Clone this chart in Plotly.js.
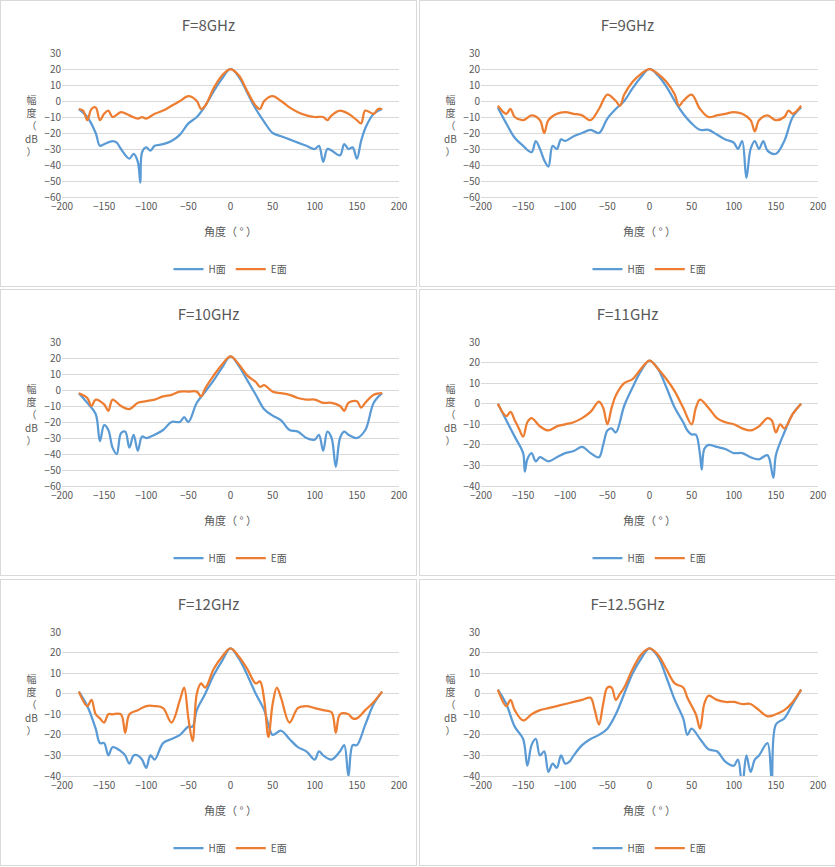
<!DOCTYPE html>
<html>
<head>
<meta charset="utf-8">
<script src="https://cdn.plot.ly/plotly-3.0.1.min.js"></script>
<style>
  body { margin: 0; background: #fff; font-family: "Noto Sans CJK SC", sans-serif; }
  .panel { position: absolute; width: 415px; height: 285px; border: 1px solid #d9d9d9; background: #fff; }
</style>
</head>
<body>
<div id="p1" class="panel" style="left:0;top:0"></div>
<div id="p2" class="panel" style="left:419px;top:0"></div>
<div id="p3" class="panel" style="left:0;top:289px"></div>
<div id="p4" class="panel" style="left:419px;top:289px"></div>
<div id="p5" class="panel" style="left:0;top:579px"></div>
<div id="p6" class="panel" style="left:419px;top:579px"></div>
<script>
// 8GHz
const h8Ang = [-180,-170,-160,-155,-150,-140,-135,-130,-120,-115,-110,-107,-105,-100,-95,-90,-80,-70,-60,-50,-40,-30,-20,-10,0,10,20,30,40,50,60,70,80,90,100,105,110,115,120,130,135,140,145,150,155,160,170,180];
const h8 = [-5,-10,-20,-28,-27,-25,-26,-30,-36,-33,-38,-51,-32,-29,-31,-28,-27,-25,-21,-14,-10,-3,6,14,20,15,5,-5,-13,-20,-22,-24,-26,-28,-30,-28,-38,-30,-31,-34,-27,-30,-29,-36,-25,-17,-8,-5];
const e8Ang = [-180,-175,-170,-165,-160,-155,-150,-145,-140,-130,-120,-110,-105,-100,-90,-80,-70,-60,-50,-40,-35,-30,-20,-10,0,10,20,30,35,40,50,60,70,80,90,100,110,115,120,130,140,150,155,160,170,175,180];
const e8 = [-5,-6,-12,-5,-4,-12,-8,-6,-10,-7,-9,-11,-10,-11,-8,-6,-3,0,3,0,-5,-3,8,16,20,16,6,-3,-5,0,3,0,-4,-7,-9,-10,-10,-12,-9,-6,-8,-12,-14,-6,-8,-5,-5];
// 9GHz
const h9Ang = [-180,-170,-160,-150,-140,-135,-130,-125,-120,-115,-110,-105,-100,-90,-80,-70,-60,-50,-40,-30,-20,-10,0,10,20,30,40,50,60,70,80,90,100,105,110,115,120,125,130,135,140,150,160,170,180];
const h9 = [-4,-14,-23,-28,-32,-25,-30,-37,-41,-28,-30,-24,-25,-22,-20,-18,-20,-11,-5,0,8,15,20,16,9,0,-8,-14,-18,-18,-21,-24,-26,-30,-25,-48,-30,-25,-30,-25,-31,-33,-25,-10,-4];
const e9Ang = [-180,-170,-165,-160,-150,-140,-130,-125,-120,-110,-100,-90,-80,-70,-60,-50,-40,-35,-30,-20,-10,0,10,20,30,35,40,50,60,70,80,90,100,110,120,125,130,140,150,160,165,170,180];
const e9 = [-3,-8,-5,-10,-12,-9,-12,-20,-12,-8,-7,-8,-9,-12,-5,4,0,-3,4,12,17,20,17,12,4,-3,0,4,-5,-10,-9,-8,-7,-8,-12,-19,-12,-9,-12,-10,-6,-8,-3];
// 10GHz
const h10Ang = [-180,-170,-160,-155,-150,-145,-140,-135,-130,-125,-120,-115,-110,-105,-100,-90,-80,-70,-60,-55,-50,-40,-30,-20,-10,0,10,20,30,40,50,60,70,80,90,100,105,110,115,120,125,130,135,140,150,160,170,180];
const h10 = [-2,-8,-15,-32,-22,-25,-36,-40,-27,-26,-36,-28,-38,-29,-30,-28,-25,-20,-20,-17,-20,-8,-1,6,14,21,15,6,-3,-12,-16,-19,-25,-26,-30,-31,-28,-38,-26,-30,-48,-30,-26,-28,-30,-25,-8,-2];
const e10Ang = [-180,-170,-165,-160,-150,-145,-140,-130,-120,-110,-100,-90,-80,-70,-60,-50,-40,-35,-30,-20,-10,0,10,20,30,35,40,50,60,70,80,90,100,110,120,130,135,140,150,155,160,170,180];
const e10 = [-2,-5,-10,-6,-9,-13,-6,-10,-12,-8,-7,-6,-4,-3,-1,-1,-1,-4,1,9,16,21,16,9,5,2,3,-1,-2,-3,-5,-6,-6,-8,-8,-10,-13,-8,-7,-11,-8,-3,-2];
// 11GHz
const h11Ang = [-180,-170,-160,-150,-148,-145,-140,-135,-130,-120,-110,-100,-90,-80,-70,-60,-55,-50,-45,-40,-30,-20,-10,0,10,20,30,40,45,50,55,60,62,65,70,80,90,100,110,120,130,140,147,150,160,170,180];
const h11 = [0,-8,-16,-24,-33,-27,-24,-28,-26,-28,-26,-24,-23,-21,-24,-26,-20,-13,-12,-14,-1,8,16,21,17,8,-2,-9,-13,-15,-15,-25,-32,-22,-20,-21,-22,-24,-24,-26,-27,-25,-36,-25,-14,-5,0];
const e11Ang = [-180,-170,-165,-160,-155,-150,-145,-140,-130,-120,-110,-100,-90,-80,-70,-60,-55,-50,-45,-40,-30,-20,-10,0,10,20,30,40,50,55,60,70,80,90,100,110,120,130,140,145,150,155,160,170,180];
const e11 = [0,-6,-4,-8,-12,-16,-9,-7,-11,-13,-11,-10,-9,-7,-4,1,-2,-10,-2,4,10,12,17,21,17,12,6,-2,-10,-2,2,-2,-7,-9,-10,-12,-13,-11,-7,-8,-14,-10,-12,-5,0];
// 12GHz
const h12Ang = [-180,-170,-160,-155,-150,-145,-140,-130,-125,-120,-115,-110,-105,-100,-95,-90,-80,-70,-60,-50,-45,-40,-30,-20,-10,0,10,20,30,40,45,50,60,70,80,90,100,105,110,120,130,135,140,145,150,160,170,180];
const h12 = [1,-6,-17,-24,-24,-30,-26,-28,-30,-34,-30,-30,-32,-36,-30,-32,-24,-22,-20,-16,-16,-8,0,9,16,22,17,9,0,-8,-15,-20,-18,-22,-26,-28,-32,-28,-30,-32,-28,-25,-40,-25,-25,-15,-5,1];
const e12Ang = [-180,-170,-165,-160,-155,-150,-145,-140,-130,-125,-120,-110,-100,-90,-80,-70,-60,-55,-50,-45,-40,-35,-30,-20,-10,0,10,20,30,35,40,45,50,55,60,70,80,90,100,110,120,125,130,140,145,150,160,170,180];
const e12 = [1,-6,-3,-10,-12,-14,-10,-10,-10,-19,-10,-8,-6,-6,-7,-14,-3,3,-12,-23,0,5,3,12,18,22,18,12,5,6,-3,-21,-5,3,-2,-14,-7,-6,-7,-8,-9,-19,-10,-10,-12,-12,-8,-4,1];
// 12.5GHz
const h125Ang = [-180,-170,-160,-150,-145,-140,-135,-130,-125,-120,-115,-110,-105,-100,-95,-90,-80,-70,-60,-50,-40,-30,-20,-10,0,10,20,30,40,45,50,60,70,80,90,100,105,110,115,120,125,130,140,145,150,160,170,180];
const h125 = [2,-5,-16,-22,-35,-25,-22,-30,-28,-38,-34,-36,-30,-34,-33,-30,-25,-22,-20,-17,-10,0,10,17,22,18,8,-3,-12,-20,-17,-22,-27,-28,-33,-35,-32,-45,-30,-38,-32,-30,-24,-42,-15,-12,-5,2];
const e125Ang = [-180,-170,-165,-160,-150,-140,-130,-120,-110,-100,-90,-80,-70,-65,-60,-55,-50,-45,-40,-35,-30,-20,-10,0,10,20,30,40,45,55,60,65,70,80,90,100,110,120,130,140,150,160,170,180];
const e125 = [2,-6,-3,-8,-13,-10,-8,-7,-6,-5,-4,-3,-2,-8,-15,-5,3,3,-3,0,3,12,19,22,19,12,5,3,-2,-10,-17,-5,-1,-3,-4,-4,-5,-5,-8,-11,-10,-8,-4,2];

const grey = "#595959";

function drawPanel(id, title, ymin, hx, hy, ex, ey) {
  const traces = [
    { x: hx, y: hy, name: "H面", type: "scatter", mode: "lines",
      line: { color: "#5b9bd5", width: 2.25, shape: "spline", smoothing: 1 } },
    { x: ex, y: ey, name: "E面", type: "scatter", mode: "lines",
      line: { color: "#ed7d31", width: 2.25, shape: "spline", smoothing: 1 } },
  ];
  const layout = {
    width: 415, height: 285,
    margin: { l: 61, r: 17, t: 52, b: 89, autoexpand: false },
    paper_bgcolor: "rgba(0,0,0,0)", plot_bgcolor: "#fff",
    font: { family: "Noto Sans CJK SC, sans-serif", size: 10, color: grey },
    title: { text: title, font: { size: 15, color: grey }, x: 0.5, xanchor: "center", y: 0.93 },
    xaxis: { range: [-200, 200], dtick: 50, showgrid: false, zeroline: false, automargin: false,
             showline: true, linecolor: "#d9d9d9", ticks: "", tickfont: { size: 10, color: grey },
             title: { text: "角度（ ° ）", font: { size: 11, color: grey }, standoff: 16 } },
    yaxis: { range: [ymin, 30], dtick: 10, gridcolor: "#d9d9d9", zeroline: false, automargin: false,
             ticks: "", tickfont: { size: 10, color: grey } },
    showlegend: true,
    legend: { orientation: "h", x: 0.5, xanchor: "center", y: -0.5, yanchor: "middle",
              font: { size: 10, color: grey } },
    annotations: [{ text: "幅<br>度<br>（<br>dB<br>）", xref: "paper", yref: "paper",
                    x: 0, y: 0.5, xshift: -39, showarrow: false, font: { size: 10, color: grey } }],
  };
  Plotly.newPlot(id, traces, layout, { displayModeBar: false, staticPlot: true });
}

drawPanel("p1", "F=8GHz", -60, h8Ang, h8, e8Ang, e8);
drawPanel("p2", "F=9GHz", -60, h9Ang, h9, e9Ang, e9);
drawPanel("p3", "F=10GHz", -60, h10Ang, h10, e10Ang, e10);
drawPanel("p4", "F=11GHz", -40, h11Ang, h11, e11Ang, e11);
drawPanel("p5", "F=12GHz", -40, h12Ang, h12, e12Ang, e12);
drawPanel("p6", "F=12.5GHz", -40, h125Ang, h125, e125Ang, e125);
</script>
</body>
</html>
